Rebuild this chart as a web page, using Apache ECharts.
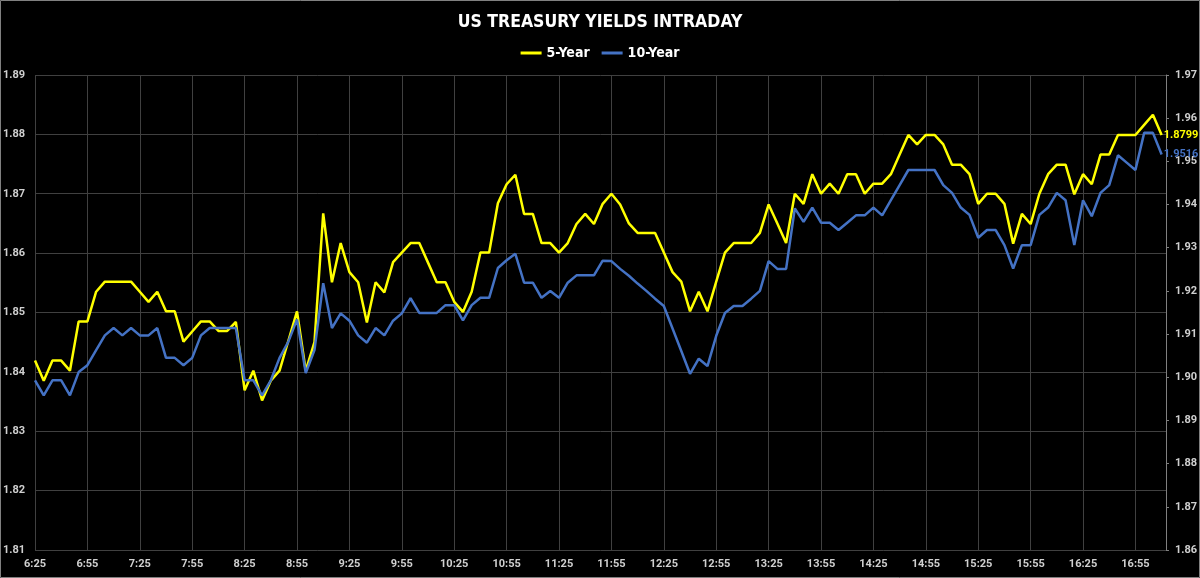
<!DOCTYPE html>
<html>
<head>
<meta charset="utf-8">
<script src="https://cdn.jsdelivr.net/npm/echarts@6/dist/echarts.min.js"></script>
<style>
  html, body { margin: 0; padding: 0; background: #000; }
  #chart { width: 1200px; height: 578px; }
</style>
</head>
<body>
<div id="chart"></div>
<script>
// intraday time slots, 5 min apart
const times = [
  '6:25','6:30','6:35','6:40','6:45','6:50','6:55','7:00','7:05','7:10','7:15','7:20',
  '7:25','7:30','7:35','7:40','7:45','7:50','7:55','8:00','8:05','8:10','8:15','8:20',
  '8:25','8:30','8:35','8:40','8:45','8:50','8:55','9:00','9:05','9:10','9:15','9:20',
  '9:25','9:30','9:35','9:40','9:45','9:50','9:55','10:00','10:05','10:10','10:15','10:20',
  '10:25','10:30','10:35','10:40','10:45','10:50','10:55','11:00','11:05','11:10','11:15','11:20',
  '11:25','11:30','11:35','11:40','11:45','11:50','11:55','12:00','12:05','12:10','12:15','12:20',
  '12:25','12:30','12:35','12:40','12:45','12:50','12:55','13:00','13:05','13:10','13:15','13:20',
  '13:25','13:30','13:35','13:40','13:45','13:50','13:55','14:00','14:05','14:10','14:15','14:20',
  '14:25','14:30','14:35','14:40','14:45','14:50','14:55','15:00','15:05','15:10','15:15','15:20',
  '15:25','15:30','15:35','15:40','15:45','15:50','15:55','16:00','16:05','16:10','16:15','16:20',
  '16:25','16:30','16:35','16:40','16:45','16:50','16:55','17:00','17:05','17:10'
];

// 5-Year yield (left axis)
const fiveYear = [
  1.8419,1.8385,1.8419,1.8419,1.8402,1.8485,1.8485,1.8535,1.8552,1.8552,1.8552,1.8552,
  1.8535,1.8518,1.8535,1.8502,1.8502,1.8451,1.8468,1.8485,1.8485,1.8469,1.8469,1.8484,
  1.8369,1.8402,1.8352,1.8385,1.8402,1.8452,1.8502,1.8402,1.8450,1.8667,1.8551,1.8617,
  1.8568,1.8551,1.8483,1.8551,1.8534,1.8585,1.8601,1.8617,1.8617,1.8584,1.8551,1.8551,
  1.8518,1.8501,1.8535,1.8601,1.8601,1.8684,1.8716,1.8732,1.8666,1.8666,1.8617,1.8617,
  1.8601,1.8617,1.8649,1.8666,1.8649,1.8683,1.8700,1.8682,1.8650,1.8634,1.8634,1.8634,
  1.8601,1.8568,1.8552,1.8502,1.8535,1.8502,1.8552,1.8601,1.8617,1.8617,1.8617,1.8634,
  1.8682,1.8650,1.8617,1.8700,1.8683,1.8733,1.8700,1.8717,1.8700,1.8733,1.8733,1.8700,
  1.8717,1.8717,1.8733,1.8766,1.8799,1.8783,1.8799,1.8799,1.8783,1.8749,1.8749,1.8733,
  1.8683,1.8700,1.8700,1.8683,1.8616,1.8666,1.8649,1.8700,1.8733,1.8749,1.8749,1.8699,
  1.8733,1.8716,1.8766,1.8766,1.8799,1.8799,1.8799,1.8816,1.8833,1.8799
];

// 10-Year yield (right axis)
const tenYear = [
  1.8993,1.8958,1.8993,1.8993,1.8958,1.9012,1.9028,1.9063,1.9097,1.9114,1.9097,1.9114,
  1.9097,1.9097,1.9114,1.9045,1.9045,1.9028,1.9045,1.9097,1.9114,1.9114,1.9114,1.9114,
  1.8993,1.8993,1.8958,1.8993,1.9045,1.9082,1.9134,1.9010,1.9063,1.9218,1.9114,1.9148,
  1.9131,1.9097,1.9080,1.9114,1.9097,1.9131,1.9148,1.9183,1.9149,1.9149,1.9149,1.9167,
  1.9167,1.9132,1.9167,1.9184,1.9184,1.9253,1.9271,1.9286,1.9219,1.9219,1.9184,1.9200,
  1.9184,1.9219,1.9236,1.9236,1.9236,1.9270,1.9269,1.9251,1.9235,1.9217,1.9200,1.9182,
  1.9165,1.9113,1.9061,1.9008,1.9043,1.9026,1.9096,1.9149,1.9165,1.9165,1.9182,1.9200,
  1.9269,1.9251,1.9251,1.9391,1.9360,1.9393,1.9358,1.9358,1.9341,1.9358,1.9375,1.9375,
  1.9393,1.9375,1.9410,1.9445,1.9480,1.9480,1.9480,1.9480,1.9445,1.9427,1.9393,1.9376,
  1.9323,1.9341,1.9341,1.9306,1.9252,1.9306,1.9306,1.9376,1.9393,1.9427,1.9410,1.9306,
  1.9410,1.9373,1.9427,1.9445,1.9514,1.9497,1.9480,1.9566,1.9566,1.9516
];

const TITLE_FONT = "'DejaVu Sans Condensed', 'DejaVu Sans', sans-serif";
const AXIS_FONT = "Roboto, 'Noto Sans', sans-serif";

let myChart = echarts.init(document.getElementById('chart'));

const axisText = { color: '#d0d0d0', fontSize: 11, fontWeight: 'bold', fontFamily: AXIS_FONT };

let option = {
  backgroundColor: '#000',
  animation: false,
  graphic: [{
    type: 'rect',
    shape: { x: 0.5, y: 0.5, width: 1199, height: 577 },
    style: { fill: 'none', stroke: '#808080', lineWidth: 1 }
  }],
  title: {
    text: 'US TREASURY YIELDS INTRADAY',
    left: 'center',
    top: 8,
    textStyle: { color: '#fff', fontSize: 17.5, fontWeight: 'bold', fontFamily: TITLE_FONT }
  },
  legend: {
    top: 41,
    left: 'center',
    icon: 'rect',
    itemWidth: 21,
    itemHeight: 3,
    itemGap: 12,
    textStyle: { color: '#fff', fontSize: 14, fontWeight: 'bold', fontFamily: TITLE_FONT },
    data: ['5-Year', '10-Year']
  },
  grid: { left: 35, right: 34, top: 75, bottom: 28, outerBoundsMode: 'none' },
  xAxis: {
    type: 'value',
    min: 0,
    max: 129.5,
    interval: 6,
    axisLine: { show: false },
    axisTick: { show: false },
    splitLine: { show: true, lineStyle: { color: '#404040', width: 1 } },
    axisLabel: Object.assign({}, axisText, {
      margin: 9,
      showMaxLabel: false,
      formatter: v => times[v] || ''
    })
  },
  yAxis: [
    {
      type: 'value',
      position: 'left',
      min: 1.81,
      max: 1.89,
      interval: 0.01,
      axisLine: { show: false },
      axisTick: { show: false },
      splitLine: { show: true, lineStyle: { color: '#404040', width: 1 } },
      axisLabel: Object.assign({}, axisText, { margin: 10, formatter: v => v.toFixed(2) })
    },
    {
      type: 'value',
      position: 'right',
      min: 1.86,
      max: 1.97,
      interval: 0.01,
      axisLine: { show: true, lineStyle: { color: '#808080', width: 1 } },
      axisTick: { show: true, length: 3, lineStyle: { color: '#808080' } },
      splitLine: { show: false },
      axisLabel: Object.assign({}, axisText, { margin: 9, formatter: v => v.toFixed(2) })
    }
  ],
  series: [
    {
      name: '5-Year',
      type: 'line',
      yAxisIndex: 0,
      symbol: 'none',
      color: '#ffff00',
      lineStyle: { color: '#ffff00', width: 2.5 },
      data: fiveYear.map((v, i) => [i, v]),
      endLabel: {
        show: true,
        distance: 2,
        color: '#ffff00',
        fontSize: 11,
        fontWeight: 'bold',
        fontFamily: AXIS_FONT,
        formatter: p => p.value[1].toFixed(4)
      }
    },
    {
      name: '10-Year',
      type: 'line',
      yAxisIndex: 1,
      symbol: 'none',
      color: '#4472c4',
      lineStyle: { color: '#4472c4', width: 2.5 },
      data: tenYear.map((v, i) => [i, v]),
      endLabel: {
        show: true,
        distance: 2,
        color: '#4472c4',
        fontSize: 11,
        fontWeight: 'bold',
        fontFamily: AXIS_FONT,
        formatter: p => p.value[1].toFixed(4)
      }
    }
  ]
};

option && myChart.setOption(option);
</script>
</body>
</html>
